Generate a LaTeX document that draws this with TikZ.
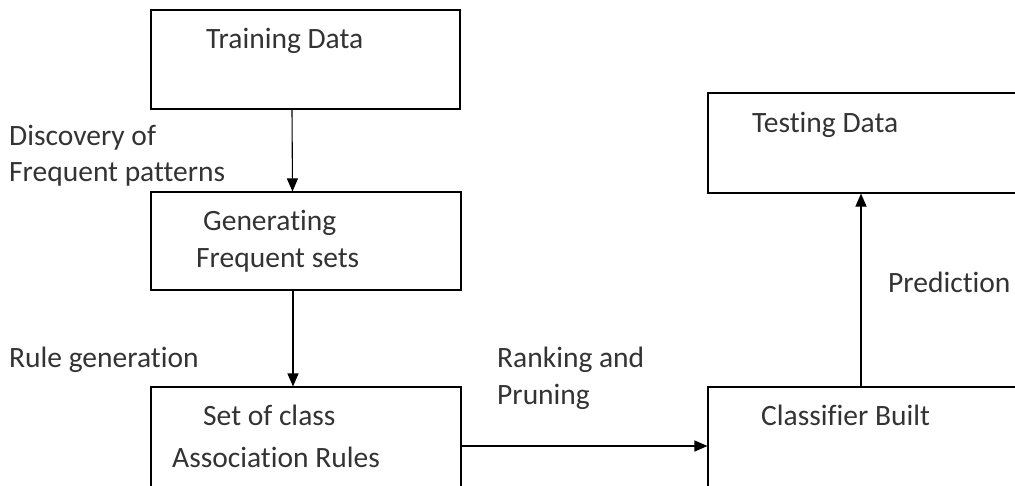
\documentclass[tikz,border=0pt]{standalone}
\usepackage{fontspec}
\setmainfont[Ligatures={NoCommon,NoRequired,NoContextual}]{Carlito}
\usetikzlibrary{arrows.meta}
\begin{document}
\begin{tikzpicture}[x=1pt, y=-1pt,
        box/.style={rectangle, draw, line width=1.1pt, inner sep=0pt},
        txt/.style={anchor=base west, inner sep=0pt, text=black!80, font=\fontsize{29.5}{35}\selectfont},
        flow/.style={-{Triangle[length=13pt, width=11pt]}, line width=1.1pt}]
            \useasboundingbox (0,0) rectangle (1015,485);
            \clip (0,0) rectangle (1015,485);

            \node (train) at (305.5,59.5) [box, minimum width=309pt, minimum height=99pt] {};
            \node (gen) at (306,241) [box, minimum width=310pt, minimum height=98pt] {};
            \node (rules) at (306,462) [box, minimum width=310pt, minimum height=150pt] {};
            \node (test) at (904,143) [box, minimum width=392pt, minimum height=100pt] {};
            \node (clf) at (904,462) [box, minimum width=392pt, minimum height=150pt] {};

            \node (ttrain) at (206,48) [txt] {Training Data};
            \node (tgen1) at (203,230) [txt] {Generating};
            \node (tgen2) at (196,267) [txt] {Frequent sets};
            \node (trules1) at (203,425) [txt] {Set of class};
            \node (trules2) at (172,467) [txt] {Association Rules};
            \node (ttest) at (752,132) [txt] {Testing Data};
            \node (tclf) at (761,425) [txt] {Classifier Built};

            \node (ldisc1) at (9,145) [txt] {Discovery of};
            \node (ldisc2) at (9,181) [txt] {Frequent patterns};
            \node (lrule) at (9,367) [txt] {Rule generation};
            \node (lrank1) at (497,367) [txt] {Ranking and};
            \node (lrank2) at (497,404) [txt] {Pruning};
            \node (lpred) at (888,292) [txt] {Prediction};

            \draw[flow] ([xshift=-13.5pt]train.south) -- ([xshift=-13.5pt]gen.north);
            \draw[flow] ([xshift=-13pt]gen.south) -- ([xshift=-13pt]rules.north);
            \draw[flow] ([yshift=16pt]rules.east) -- ([yshift=16pt]clf.west);
            \draw[flow] ([xshift=-43pt]clf.north) -- ([xshift=-43pt]test.south);

        \end{tikzpicture}
\end{document}
